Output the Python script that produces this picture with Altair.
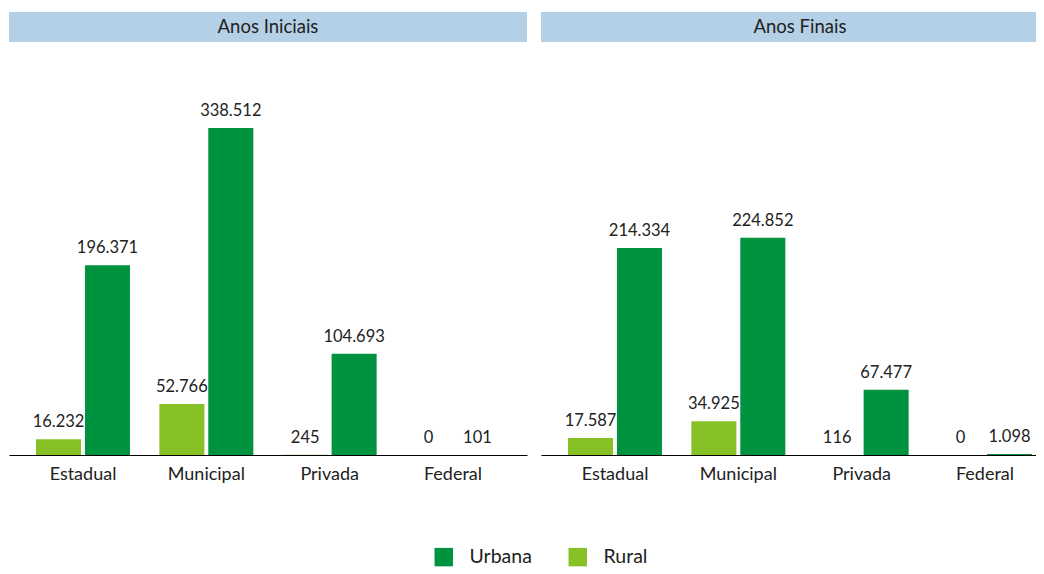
import altair as alt
import pandas as pd

categories = ["Estadual", "Municipal", "Privada", "Federal"]
series = ["Urbana", "Rural"]
panels = ["Anos Iniciais", "Anos Finais"]

iniciais_urbana = [196371, 338512, 104693, 101]
iniciais_rural = [16232, 52766, 245, 0]
finais_urbana = [214334, 224852, 67477, 1098]
finais_rural = [17587, 34925, 116, 0]

colors = ["#00933f", "#86c226"]
FONT = "Lato"
TXT = "#222222"


def make_df(urbana, rural):
    rows = []
    for c, u, r in zip(categories, urbana, rural):
        rows.append({"cat": c, "serie": "Rural", "v": r})
        rows.append({"cat": c, "serie": "Urbana", "v": u})
    df = pd.DataFrame(rows)
    df["label"] = df["v"].map(lambda x: f"{x:,}".replace(",", "."))
    return df


YMAX = 458600
H = 443


def panel(df, title, W, pin, pout, align):
    xs = alt.X("cat:N", sort=categories, title=None,
               scale=alt.Scale(paddingInner=pin, paddingOuter=pout, align=align),
               axis=alt.Axis(labelFontSize=18, labelFont=FONT, labelColor=TXT,
                             labelPadding=10, ticks=False, domainColor="#000000",
                             domainWidth=1.2, labelAngle=0))
    xo = alt.XOffset("serie:N", sort=["Rural", "Urbana"],
                     scale=alt.Scale(domain=["Rural", "Urbana"], paddingInner=0.08, paddingOuter=0))
    ys = alt.Y("v:Q", scale=alt.Scale(domain=[0, YMAX], nice=False), axis=None)
    base = alt.Chart(df)
    bars = base.mark_bar().encode(
        x=xs, xOffset=xo, y=ys,
        color=alt.Color("serie:N", scale=alt.Scale(domain=series, range=colors),
                        legend=alt.Legend(title=None, orient="none", direction="horizontal",
                                          legendX=425, legendY=535,
                                          symbolType="square", symbolSize=340,
                                          symbolStrokeWidth=0, labelFontSize=19.5,
                                          labelFont=FONT, labelColor=TXT,
                                          labelOffset=16, columnPadding=36, padding=0)),
    )
    labels = base.mark_text(baseline="bottom", dy=-9, fontSize=16.5, font=FONT, color=TXT).encode(
        x=xs, xOffset=xo, y=ys, text="label:N"
    )
    hdr = pd.DataFrame({"t": [title]})
    rect = alt.Chart(hdr).mark_rect(color="#b4d0e6").encode(
        x=alt.value(0), x2=alt.value(W), y=alt.value(0), y2=alt.value(30)
    )
    htxt = alt.Chart(hdr).mark_text(fontSize=18.5, font=FONT, color=TXT, baseline="middle").encode(
        x=alt.value(W / 2), y=alt.value(15), text="t:N"
    )
    return alt.layer(rect, htxt, bars, labels).properties(width=W, height=H)


left = panel(make_df(iniciais_urbana, iniciais_rural), panels[0], 518, 0.238, 0.219, 0.5)
right = panel(make_df(finais_urbana, finais_rural), panels[1], 518, 0.238, 0.219, 0.5)

chart = alt.hconcat(left, right, spacing=14).resolve_scale(
    x="independent", xOffset="independent", y="shared"
).properties(
    padding={"left": 1, "top": 4, "right": -23, "bottom": 0}
).configure_view(stroke=None)

chart.save("out.html", embed_options={"renderer": "svg", "actions": False})
